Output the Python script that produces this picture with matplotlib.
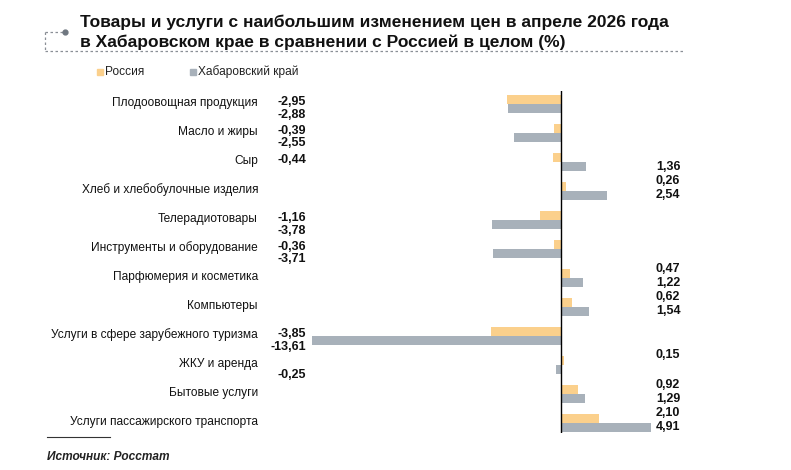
import matplotlib.pyplot as plt
import matplotlib.transforms as mtransforms
from matplotlib.lines import Line2D

categories = [
    "Плодоовощная продукция",
    "Масло и жиры",
    "Сыр",
    "Хлеб и хлебобулочные изделия",
    "Телерадиотовары",
    "Инструменты и оборудование",
    "Парфюмерия и косметика",
    "Компьютеры",
    "Услуги в сфере зарубежного туризма",
    "ЖКУ и аренда",
    "Бытовые услуги",
    "Услуги пассажирского транспорта",
]
russia = [-2.95, -0.39, -0.44, 0.26, -1.16, -0.36, 0.47, 0.62, -3.85, 0.15, 0.92, 2.10]
khabarovsk = [-2.88, -2.55, 1.36, 2.54, -3.78, -3.71, 1.22, 1.54, -13.61, -0.25, 1.29, 4.91]

title_lines = [
    "Товары и услуги с наибольшим изменением цен в апреле 2026 года",
    "в Хабаровском крае в сравнении с Россией в целом (%)",
]
legend_labels = ["Россия", "Хабаровский край"]
source = "Источник: Росстат"

C_RU = "#FBD08C"
C_KH = "#A8B1BA"
W, H = 791, 470

plt.rcParams['font.family'] = ['Liberation Sans', 'DejaVu Sans']

fig = plt.figure(figsize=(W / 100, H / 100), dpi=100)


def fx(x):
    return x / W


def fy(y):
    return 1 - y / H


# plot area in pixels of the picture
px_zero, px_per_unit = 561, 18.3
ax_l, ax_r = 300, 700
ax_t, ax_b = 91, 433
row0, row_step = 104, 29

ax = fig.add_axes([fx(ax_l), fy(ax_b), (ax_r - ax_l) / W, (ax_b - ax_t) / H])
ax.set_xlim((ax_l - px_zero) / px_per_unit, (ax_r - px_zero) / px_per_unit)
ax.set_ylim((ax_b - row0) / row_step, (ax_t - row0) / row_step)
ax.axis('off')

bh = 9 / row_step
ys = list(range(len(categories)))
ax.barh([y - bh / 2 for y in ys], russia, height=bh, color=C_RU, zorder=2)
ax.barh([y + bh / 2 for y in ys], khabarovsk, height=bh, color=C_KH, zorder=2)
ax.axvline(0, color="black", lw=1.0, zorder=3)

# labels: category names and values in fixed columns
lab_tr = mtransforms.blended_transform_factory(fig.transFigure, ax.transData)
for i, name in enumerate(categories):
    ax.text(fx(258), i - 1 / row_step, name, transform=lab_tr, ha='right', va='center',
            fontsize=8.6, color="#111111")
    for val, off_neg, off_pos in ((russia[i], -2, -9.5), (khabarovsk[i], 10.5, 4.5)):
        txt = f"{val:.2f}".replace(".", ",")
        if val < 0:
            ax.text(fx(306), i + off_neg / row_step, txt, transform=lab_tr, ha='right',
                    va='center', fontsize=9, fontweight='bold', color="#111111")
        else:
            ax.text(fx(656), i + off_pos / row_step, txt, transform=lab_tr, ha='left',
                    va='center', fontsize=9, fontweight='bold', color="#111111")

# title
for k, line in enumerate(title_lines):
    fig.text(fx(80), fy(22 + 20 * k), line, ha='left', va='center', fontsize=12.5,
             fontweight='bold', color="#111111")

# dotted bracket around title
dash = dict(color="#8a8f96", lw=0.9, ls=(0, (2, 2)), transform=fig.transFigure)
fig.add_artist(Line2D([fx(45), fx(65)], [fy(32), fy(32)], **dash))
fig.add_artist(Line2D([fx(45), fx(45)], [fy(32), fy(51)], **dash))
fig.add_artist(Line2D([fx(45), fx(684)], [fy(51), fy(51)], **dash))
fig.add_artist(Line2D([fx(65)], [fy(32)], marker='o', ms=3.5, color="#6f7780",
                      transform=fig.transFigure))

# legend
for (x, lab, col) in ((100, legend_labels[0], C_RU), (193, legend_labels[1], C_KH)):
    fig.add_artist(Line2D([fx(x)], [fy(72)], marker='s', ms=5, color=col, lw=0,
                          transform=fig.transFigure))
    fig.text(fx(x + 5), fy(72), lab, ha='left', va='center', fontsize=8.6, color="#222222")

# footer
fig.add_artist(Line2D([fx(47), fx(110)], [fy(437), fy(437)], color="#333333", lw=0.8,
                      transform=fig.transFigure))
fig.text(fx(47), fy(457), source, ha='left', va='center', fontsize=8.6, fontweight='bold',
         style='italic', color="#222222")

fig.savefig("out.png", dpi=100)
